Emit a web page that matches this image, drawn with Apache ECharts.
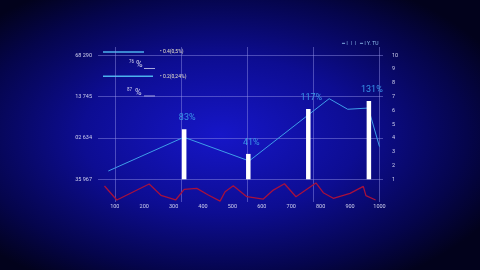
<!DOCTYPE html>
<html>
<head>
<meta charset="utf-8">
<script src="https://cdn.jsdelivr.net/npm/echarts@6/dist/echarts.min.js"></script>
<style>html,body{margin:0;padding:0;background:#02021a;}#c{width:480px;height:270px;}</style>
</head>
<body>
<div id="c"></div>
<script>
// ---- data ----
const xLabelValues = [100, 200, 300, 400, 500, 600, 700, 800, 900, 1000];
const xGridValues = [100, 325, 550, 775, 1000];
const leftTickValues = [1, 4, 7, 10];
const leftTickLabels = ['35 967', '02 634', '13 745', '68 290'];
const rightTickValues = [1, 2, 3, 4, 5, 6, 7, 8, 9, 10];
const blueX = [78, 335, 557, 829, 892, 962, 1000];
const blueY = [1.60, 4.05, 2.33, 6.85, 6.08, 6.17, 3.37];
const barX = [336, 554, 758, 964];
const barY = [4.63, 2.84, 6.10, 6.68];
const barBase = 1;
const barLabels = ['83%', '41%', '117%', '131%'];
const redX = [65, 107, 217, 257, 307, 336, 379, 418, 458, 475, 503, 549, 605, 639, 677, 716, 784, 809, 843, 900, 945, 954, 987];
const redY = [10.3, 1.3, 11.6, 4.3, 1.3, 8.2, 8.8, 4.5, 0.6, 6.6, 10.5, 3.4, 1.9, 7.7, 11.8, 3.4, 12.3, 6.0, 2.4, 5.6, 10.1, 4.1, 1.3];
const legendTexts = ['• 0.4(0,5%)', '• 0.2(0,24%)'];
const legendSmall = ['76', '87'];
const topRightText = '━ ǀ  ǀ  ǀ   ━ ǀ Y. TU';

const gridColor = 'rgba(150,150,235,0.45)';
const labelColor = '#cfd0ee';
const font = 'Roboto, "Noto Sans", sans-serif';

const chart = echarts.init(document.getElementById('c'), null, {renderer: 'canvas'});

const blueData = blueX.map((x, i) => [x, blueY[i]]);
const redData = redX.map((x, i) => [x, redY[i]]);
const barData = barX.map((x, i) => [x, barY[i]]);

const option = {
  animation: false,
  backgroundColor: 'transparent',
  graphic: [
    {
      type: 'rect', z: -100, silent: true, scaleX: 480 / 270,
      shape: {x: 0, y: 0, width: 270, height: 270},
      style: {
        fill: new echarts.graphic.RadialGradient(0.46, 0.5, 0.64, [
          {offset: 0, color: '#1616c8'},
          {offset: 0.45, color: '#0d0d92'},
          {offset: 0.8, color: '#05054c'},
          {offset: 1, color: '#02021c'}
        ])
      }
    },
    // legend rows
    {type: 'line', shape: {x1: 103, y1: 52, x2: 144, y2: 52}, style: {stroke: '#4cb2ee', lineWidth: 1.4}},
    {type: 'text', x: 160, y: 52, style: {text: legendTexts[0], fill: '#e8e2c8', font: '5px ' + font, verticalAlign: 'middle'}},
    {type: 'text', x: 129, y: 61.5, style: {text: legendSmall[0], fill: labelColor, font: '4.5px ' + font, verticalAlign: 'middle'}},
    {type: 'text', x: 136, y: 65, style: {text: '%', fill: labelColor, font: '9px ' + font, verticalAlign: 'middle'}},
    {type: 'line', shape: {x1: 144, y1: 68.5, x2: 155, y2: 68.5}, style: {stroke: labelColor, lineWidth: 0.8}},
    {type: 'line', shape: {x1: 103, y1: 76.3, x2: 153, y2: 76.3}, style: {stroke: '#4cb2ee', lineWidth: 1.4}},
    {type: 'text', x: 160, y: 77, style: {text: legendTexts[1], fill: '#e8e2c8', font: '5px ' + font, verticalAlign: 'middle'}},
    {type: 'text', x: 127, y: 90, style: {text: legendSmall[1], fill: labelColor, font: '4.5px ' + font, verticalAlign: 'middle'}},
    {type: 'text', x: 135, y: 92.5, style: {text: '%', fill: labelColor, font: '9px ' + font, verticalAlign: 'middle'}},
    {type: 'line', shape: {x1: 144, y1: 96, x2: 155, y2: 96}, style: {stroke: labelColor, lineWidth: 0.8}},
    {type: 'text', x: 342, y: 44, style: {text: topRightText, fill: '#8fc0f0', font: '5px ' + font, verticalAlign: 'middle'}}
  ],
  grid: {left: 98, right: 97, top: 47, bottom: 68, containLabel: false},
  xAxis: {
    type: 'value', min: 43, max: 1012,
    axisLine: {show: false},
    axisTick: {show: false, customValues: xGridValues},
    splitLine: {show: true, lineStyle: {color: gridColor, width: 1}},
    axisLabel: {customValues: xLabelValues, color: labelColor, fontSize: 5.5, fontFamily: font, margin: 2, formatter: v => String(v)}
  },
  yAxis: [
    {
      type: 'value', position: 'left', min: -0.65, max: 10.6,
      axisLine: {show: false},
      axisTick: {show: false, customValues: leftTickValues},
      splitLine: {show: true, lineStyle: {color: gridColor, width: 1}},
      axisLabel: {
        customValues: leftTickValues, color: labelColor, fontSize: 5.5, fontFamily: font, margin: 6,
        formatter: v => leftTickLabels[leftTickValues.indexOf(Math.round(v))] || ''
      }
    },
    {
      type: 'value', position: 'right', min: -0.65, max: 10.6,
      axisLine: {show: false},
      axisTick: {show: false, customValues: rightTickValues},
      splitLine: {show: false},
      axisLabel: {customValues: rightTickValues, color: labelColor, fontSize: 5.5, fontFamily: font, margin: 9}
    },
    {
      type: 'value', show: false, min: 0, max: 100
    }
  ],
  series: [
    {
      type: 'line', yAxisIndex: 2, data: redData, symbol: 'none',
      lineStyle: {color: '#a8103c', width: 1.3}, z: 3
    },
    {
      type: 'line', yAxisIndex: 0, data: blueData, symbol: 'none',
      lineStyle: {color: '#3f9de9', width: 1}, z: 4
    },
    {
      type: 'custom', yAxisIndex: 0, data: barData, z: 5,
      renderItem: function (params, api) {
        const x = api.value(0), top = api.value(1);
        const p1 = api.coord([x, barBase]);
        const p2 = api.coord([x, top]);
        const w = 4.5;
        return {
          type: 'group',
          children: [
            {type: 'rect', shape: {x: p1[0] - w / 2, y: p2[1], width: w, height: p1[1] - p2[1]}, style: {fill: '#ffffff'}},
            {type: 'text', x: p2[0] + 3, y: p2[1] - 11.5, style: {text: barLabels[params.dataIndex], fill: '#3a95e8', font: '9px ' + font, align: 'center', verticalAlign: 'middle'}}
          ]
        };
      }
    }
  ]
};
chart.setOption(option);
</script>
</body>
</html>
